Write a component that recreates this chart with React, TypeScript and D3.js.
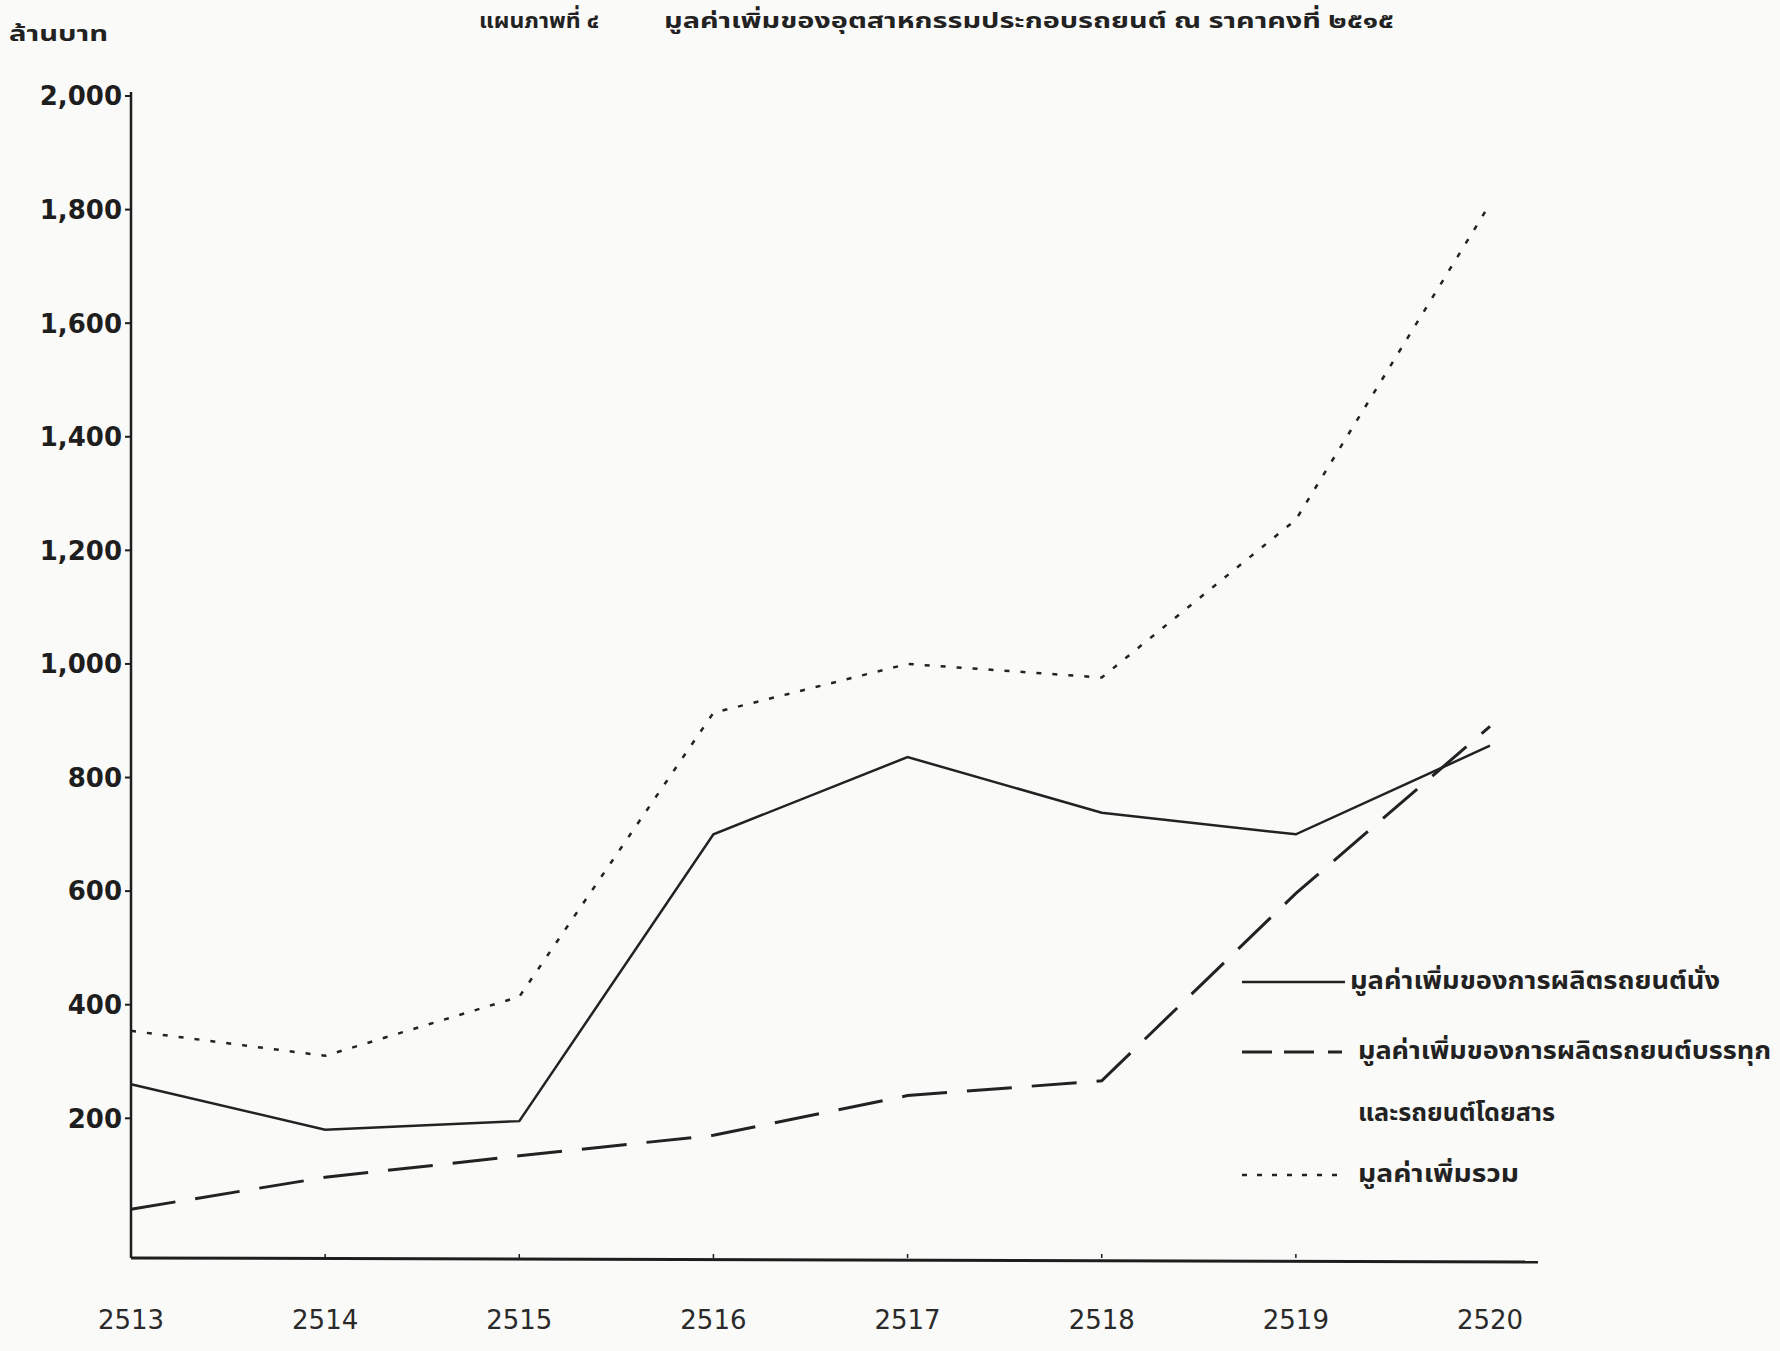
import React, { useEffect, useRef } from 'react';
import * as d3 from 'd3';

// Buddhist-era years on the x axis
const years = ['2513', '2514', '2515', '2516', '2517', '2518', '2519', '2520'];

// ล้านบาท
const passengerCars = [260, 180, 195, 700, 836, 738, 700, 856];
const trucksBuses = [40, 96, 134, 170, 240, 266, 596, 890];
const totalValue = [354, 310, 414, 914, 1000, 976, 1254, 1810];

const yTicks = [200, 400, 600, 800, 1000, 1200, 1400, 1600, 1800, 2000];

const titleLead = 'แผนภาพที่ ๔';
const titleText = 'มูลค่าเพิ่มของอุตสาหกรรมประกอบรถยนต์ ณ ราคาคงที่ ๒๕๑๕';
const yUnit = 'ล้านบาท';

const legendItems = [
  { label: ['มูลค่าเพิ่มของการผลิตรถยนต์นั่ง'], dash: 'none', width: 2.5 },
  { label: ['มูลค่าเพิ่มของการผลิตรถยนต์บรรทุก', 'และรถยนต์โดยสาร'], dash: '30 12 30 14 14', width: 3 },
  { label: ['มูลค่าเพิ่มรวม'], dash: '5 10', width: 2.5 },
];

const W = 1780;
const H = 1351;
const thaiFont = '"Noto Sans Thai", "Noto Sans Thai UI", Loma, Garuda, "Tlwg Typist", Norasi, sans-serif';

export default function App() {
  const svgRef = useRef<SVGSVGElement>(null);

  useEffect(() => {
    if (!svgRef.current) return;
    const svg = d3.select(svgRef.current);
    svg.selectAll('*').remove();

    const left = 131;
    const xRight = 1490;
    const top = 96;
    const bottom = 1258;

    svg.append('rect').attr('width', W).attr('height', H).attr('fill', '#fafaf8');

    const x = d3.scalePoint<string>().domain(years).range([left, xRight]);
    // baseline of the hand drawn axis sits a little under zero
    const y = d3.scaleLinear().domain([-46, 2000]).range([bottom, top]);

    // axes
    svg.append('line')
      .attr('x1', left).attr('x2', left).attr('y1', top - 4).attr('y2', bottom)
      .attr('stroke', '#1e1e1e').attr('stroke-width', 2.5);
    svg.append('line')
      .attr('x1', left).attr('x2', 1538).attr('y1', bottom).attr('y2', bottom + 4)
      .attr('stroke', '#1e1e1e').attr('stroke-width', 3);

    svg.append('g').selectAll('line')
      .data(yTicks)
      .join('line')
      .attr('x1', left - 6).attr('x2', left)
      .attr('y1', d => y(d)).attr('y2', d => y(d))
      .attr('stroke', '#1e1e1e').attr('stroke-width', 2);

    svg.append('g').selectAll('text')
      .data(yTicks)
      .join('text')
      .attr('x', left - 9)
      .attr('y', d => y(d))
      .attr('dy', '0.36em')
      .attr('text-anchor', 'end')
      .attr('font-family', '"DejaVu Sans", sans-serif')
      .attr('font-weight', 'bold')
      .attr('font-size', 26)
      .attr('fill', '#1e1e1e')
      .text(d => d3.format(',')(d));

    svg.append('g').selectAll('line')
      .data(years.slice(1, -1))
      .join('line')
      .attr('x1', d => x(d) as number).attr('x2', d => x(d) as number)
      .attr('y1', bottom - 4).attr('y2', bottom)
      .attr('stroke', '#1e1e1e').attr('stroke-width', 1.5);

    svg.append('g').selectAll('text')
      .data(years)
      .join('text')
      .attr('x', d => x(d) as number)
      .attr('y', 1320)
      .attr('dy', '0.36em')
      .attr('text-anchor', 'middle')
      .attr('font-family', '"DejaVu Sans", sans-serif')
      .attr('font-size', 26)
      .attr('fill', '#2a2a2a')
      .text(d => d);

    // series
    const line = d3.line<number>()
      .x((_, i) => x(years[i]) as number)
      .y(d => y(d));

    const series = [
      { values: passengerCars, dash: 'none', width: 2.5 },
      { values: trucksBuses, dash: '45 20', width: 3 },
      { values: totalValue, dash: '5 11', width: 2.5 },
    ];

    svg.append('g').selectAll('path')
      .data(series)
      .join('path')
      .attr('d', d => line(d.values))
      .attr('fill', 'none')
      .attr('stroke', '#222')
      .attr('stroke-width', d => d.width)
      .attr('stroke-dasharray', d => d.dash);

    // titles
    svg.append('text')
      .attr('x', 9).attr('y', 41)
      .attr('font-family', thaiFont).attr('font-weight', 'bold').attr('font-size', 22)
      .attr('fill', '#222')
      .attr('textLength', 99).attr('lengthAdjust', 'spacingAndGlyphs')
      .text(yUnit);
    svg.append('text')
      .attr('x', 479).attr('y', 28)
      .attr('font-family', thaiFont).attr('font-weight', 'bold').attr('font-size', 22)
      .attr('fill', '#222')
      .attr('textLength', 120).attr('lengthAdjust', 'spacingAndGlyphs')
      .text(titleLead);
    svg.append('text')
      .attr('x', 664).attr('y', 28)
      .attr('font-family', thaiFont).attr('font-weight', 'bold').attr('font-size', 22)
      .attr('fill', '#222')
      .attr('textLength', 730).attr('lengthAdjust', 'spacingAndGlyphs')
      .text(titleText);

    // legend
    const legendRows = [982, 1052, 1175];
    const legendTextX = [1350, 1358, 1358];
    const legendTextLen = [[370], [413, 197], [161]];
    const lg = svg.append('g');
    legendItems.forEach((item, i) => {
      lg.append('line')
        .attr('x1', 1242).attr('x2', 1345)
        .attr('y1', legendRows[i]).attr('y2', legendRows[i])
        .attr('stroke', '#222')
        .attr('stroke-width', item.width)
        .attr('stroke-dasharray', item.dash);
      item.label.forEach((t, j) => {
        lg.append('text')
          .attr('x', legendTextX[i])
          .attr('y', legendRows[i] + 7 + j * 62)
          .attr('font-family', thaiFont).attr('font-weight', 'bold').attr('font-size', 24)
          .attr('fill', '#222')
          .attr('textLength', legendTextLen[i][j]).attr('lengthAdjust', 'spacingAndGlyphs')
          .text(t);
      });
    });
  }, []);

  return (
    <svg
      ref={svgRef}
      width={W}
      height={H}
      style={{ position: 'absolute', left: 0, top: 0 }}
    />
  );
}
